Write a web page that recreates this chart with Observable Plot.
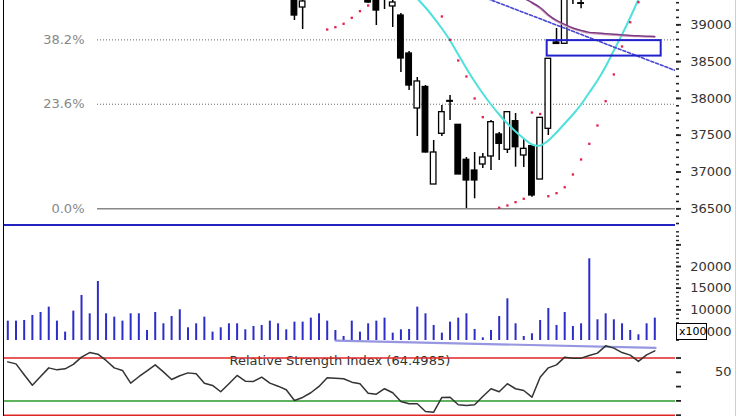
<!DOCTYPE html>
<html><head><meta charset="utf-8">
<script src="https://cdn.jsdelivr.net/npm/d3@7"></script>
<script src="https://cdn.jsdelivr.net/npm/@observablehq/plot@0.6"></script>
<style>
html,body{margin:0;padding:0;background:#fff;}
#chart{position:relative;width:740px;height:416px;overflow:hidden;background:#fff;font-family:"DejaVu Sans",Verdana,sans-serif;}
#chart svg{position:absolute;left:0;overflow:visible;}
.deco{position:absolute;}
#x100{position:absolute;left:676px;top:323px;width:27px;height:15px;border:1px solid #000;background:#fff;font:11px "DejaVu Sans",Verdana,sans-serif;line-height:15px;padding-left:2px;color:#000;}
</style></head><body><div id="chart"></div>
<script>
// ---- Price candles (visible part) ----
const candleIndex = [35,36,44,45,46,47,48,49,50,51,52,53,54,55,56,57,58,59,60,61,62,63,64,65,66,67,68,69,70];
const candleOpen  = [39450,39235,39371,39357,39480,39249,39126,38610,37863,38155,36830,37519,37965,37641,37166,37020,37102,37211,37510,37302,37690,37224,37351,36898,37587,38760,38742,39450,39293];
const candleHigh  = [39520,39371,39400,39420,39520,39398,39154,38637,38284,38175,37428,37904,38039,37641,37197,37265,37251,37700,37537,37822,37795,37442,37360,37740,38542,38950,39500,39500,39360];
const candleLow   = [39058,38936,39289,38990,39208,38963,38352,38107,37482,37258,36830,37482,37700,36966,36504,36636,37048,37020,37157,37251,37065,37061,36658,36898,37496,38732,38732,39276,39217];
const candleClose = [39126,39317,39303,39194,39400,39303,38542,38175,38230,37265,37265,37813,37955,36966,36885,36885,37197,37677,37383,37813,37337,37315,36681,37736,38538,38740,39466,39400,39285];

// ---- Moving averages ----
const cyanIndex = [49,50,51,52,53,54,55,56,57,58,59,60,61,62,63,64,65,66,67,68,69,70,71,72,73,74,75,76,77,78];
const cyanValue = [39493,39357,39235,39099,38950,38787,38596,38406,38230,38067,37917,37781,37659,37550,37455,37374,37360,37428,37537,37659,37781,37917,38080,38243,38433,38651,38868,39099,39344,39575];
const purpleIndex = [63,64,65,66,67,68,69,70,71,72,73,74,75,76,77,78,79];
const purpleValue = [39360,39303,39235,39136,39060,39005,38957,38924,38897,38889,38879,38871,38863,38855,38851,38845,38841];
const pinkIndex = [64,65,66,67,68,69,70,71,72,73,74,75,76,77,78,79];
const pinkValue = [39290,39218,39120,39045,38990,38944,38910,38884,38874,38866,38858,38850,38843,38839,38834,38830];

// ---- Parabolic SAR dots ----
const sarIndex = [39,40,41,42,43,44,53,54,55,56,57,58,60,61,62,63,64,65,66,67,68,69,70,71,72,73,74,75,76,77];
const sarValue = [38936,38967,39014,39095,39185,39262,39113,38796,38515,38298,37999,37745,36514,36545,36590,36636,37808,37788,36671,36712,36793,36966,37170,37383,37632,37962,38325,38705,39035,39307];

// ---- Fibonacci levels ----
const fibLabels = ["38.2%","23.6%","0.0%"];
const fibValues = [38795,37921,36500];

// ---- Annotations ----
const trendIndex = [58,81.5];
const trendValue = [39380,38379];
const boxIndex = [65.86,79.78];
const boxValue = [38575,38785];

// ---- Volume ----
const volume = [7392,7392,7547,8700,9393,10623,7392,4854,9700,13316,9086,16547,9086,8316,7392,9086,9086,5239,9393,6778,
                8470,10009,5855,6778,8316,4854,5855,6778,6778,5393,6162,6393,7392,6778,5393,7162,7162,8085,9086,7392,
                5239,3854,7392,4854,6778,7392,8085,4623,5393,5470,10623,9086,6393,4623,7162,8085,9086,5470,3547,5239,
                8470,12548,6778,3854,4470,7547,10316,6393,9393,6162,6778,21779,7701,9086,7701,6778,5239,4239,6778,8085];

// ---- RSI ----
const rsi = [57.3,55.9,48.3,41.0,47.1,53.1,51.7,52.4,55.5,60.6,63.8,62.7,58.3,53.1,51.3,42.4,46.9,51.0,55.2,50.3,
             45.0,47.6,49.6,49.0,42.4,40.8,36.4,42.0,47.8,43.8,43.6,46.6,42.4,40.3,37.8,30.3,32.4,35.7,40.1,46.2,
             45.9,45.5,43.1,42.0,35.4,34.7,38.5,35.7,29.6,28.0,28.0,22.6,22.1,32.4,32.6,27.3,26.8,27.3,33.1,38.5,
             36.4,42.0,38.5,37.3,32.6,46.6,53.1,55.2,60.6,59.9,59.9,61.7,63.4,68.5,66.9,63.8,62.0,57.6,62.2,65.0];
const rsiTrendIndex = [40,79.1];
const rsiTrendValue = [72.2,67.1];
const rsiRedLevels = [60,20];
const rsiGreenLevels = [30];
const rsiTitle = "Relative Strength Index (64.4985)";

// ---- Axis ticks ----
const priceTickLabels = [36500,37000,37500,38000,38500,39000];
const volumeTickLabels = [5000,10000,15000,20000];
const rsiTickLabels = [50];

// ---- build tables ----
const candles = candleIndex.map((i,k)=>({i,open:candleOpen[k],high:candleHigh[k],low:candleLow[k],close:candleClose[k]}));
const cyan = cyanIndex.map((i,k)=>({i,v:cyanValue[k]}));
const purple = purpleIndex.map((i,k)=>({i,v:purpleValue[k]}));
const pink = pinkIndex.map((i,k)=>({i,v:pinkValue[k]}));
const sar = sarIndex.map((i,k)=>({i,v:sarValue[k]}));
const fibs = fibLabels.map((label,k)=>({label,v:fibValues[k]}));
const trend = trendIndex.map((i,k)=>({i,v:trendValue[k]}));
const box = [{i1:boxIndex[0],i2:boxIndex[1],v1:boxValue[0],v2:boxValue[1]}];
const vol = volume.map((v,i)=>({i,v}));
const rsiData = rsi.map((v,i)=>({i,v}));
const rsiTrend = rsiTrendIndex.map((i,k)=>({i,v:rsiTrendValue[k]}));

const W = 740, ML = 3, MR = 65;
const X = {domain:[0,79], range:[7.3,654.3], axis:null};
const baseStyle = {background:"transparent", overflow:"visible", fontFamily:"'DejaVu Sans', Verdana, sans-serif", fontSize:"13px", color:"#333"};
const AXC = "#222";

const chart = document.getElementById("chart");
function place(svg, top){ svg.style.top = top + "px"; chart.appendChild(svg); }

// Price pane
const price = Plot.plot({
  width:W, height:225, marginLeft:ML, marginRight:MR, marginTop:0, marginBottom:0,
  x:X,
  y:{domain:[36500,39000], range:[208.3,24.3], label:null},
  style:baseStyle,
  marks:[
    Plot.ruleY(fibs.filter(d=>d.v!==36500), {y:"v", insetLeft:94, stroke:"#666", strokeWidth:1, strokeDasharray:"1,2"}),
    Plot.ruleY(fibs.filter(d=>d.v===36500), {y:"v", insetLeft:94, stroke:"#888", strokeWidth:1.5}),
    Plot.text(fibs, {y:"v", text:"label", frameAnchor:"left", dx:81, textAnchor:"end", fill:"#888", fontSize:13}),
    Plot.ruleX(candles, {x:"i", y1:"low", y2:"high", stroke:"#000", strokeWidth:1.5, clip:true}),
    Plot.rect(candles, {x1:d=>d.i-0.34, x2:d=>d.i+0.34, y1:"open", y2:"close", fill:d=>d.close>d.open?"#fff":"#000", stroke:"#000", strokeWidth:1.3, clip:true}),
    Plot.line(cyan, {x:"i", y:"v", stroke:"#4ee0dc", strokeWidth:2, curve:"catmull-rom", clip:true}),
    Plot.line(pink, {x:"i", y:"v", stroke:"#d0a4c4", strokeWidth:1.4, curve:"catmull-rom", clip:true}),
    Plot.line(purple, {x:"i", y:"v", stroke:"#7e3a80", strokeWidth:1.5, curve:"catmull-rom", clip:true}),
    Plot.line(trend, {x:"i", y:"v", stroke:"#4646d2", strokeWidth:1.6, strokeDasharray:"3,2", clip:true}),
    Plot.rect(box, {x1:"i1", x2:"i2", y1:"v1", y2:"v2", fill:"none", stroke:"#2222cc", strokeWidth:2, clip:true}),
    Plot.dot(sar, {x:"i", y:"v", r:1.3, symbol:"square", fill:"#e3204c", clip:true}),
    Plot.axisY(d3.range(36300,39301,100), {anchor:"right", label:null, tickSize:3, strokeWidth:1.6, stroke:AXC, tickFormat:()=>""}),
    Plot.axisY(priceTickLabels, {anchor:"right", label:null, tickSize:5, strokeWidth:1.8, stroke:AXC, tickPadding:51, textAnchor:"end", tickFormat:d=>String(d), fill:"#333"})
  ]
});
place(price, 0);

// Volume pane
const volPlot = Plot.plot({
  width:W, height:115, marginLeft:ML, marginRight:MR, marginTop:0, marginBottom:0,
  x:X,
  y:{domain:[5000,20000], range:[106,41], label:null},
  style:baseStyle,
  marks:[
    Plot.ruleX(vol, {x:"i", y1:0, y2:"v", stroke:"#2d2dc8", strokeWidth:2, clip:true}),
    Plot.axisY(d3.range(3000,28001,1000), {anchor:"right", label:null, tickSize:3, strokeWidth:1.4, stroke:AXC, tickFormat:()=>""}),
    Plot.axisY([5000,10000,15000,20000,25000], {anchor:"right", label:null, tickSize:5, strokeWidth:1.8, stroke:AXC, tickFormat:()=>""}),
    Plot.axisY(volumeTickLabels, {anchor:"right", label:null, tickSize:0, tickPadding:56, textAnchor:"end", tickFormat:d=>String(d), fill:"#333"})
  ]
});
place(volPlot, 225);

// RSI pane
const rsiPlot = Plot.plot({
  width:W, height:86, marginLeft:ML, marginRight:MR, marginTop:0, marginBottom:0,
  x:X,
  y:{domain:[20,60], range:[84.7,27.5], label:null},
  style:baseStyle,
  marks:[
    Plot.text([rsiTitle], {text:d=>d, frameAnchor:"top-left", dx:226, dy:25, textAnchor:"start", fill:"#333", fontSize:13}),
    Plot.ruleY(rsiRedLevels, {y:d=>d, stroke:"#e02424", strokeWidth:1.5}),
    Plot.ruleY(rsiGreenLevels, {y:d=>d, stroke:"#2a9a2a", strokeWidth:1.5}),
    Plot.line(rsiTrend, {x:"i", y:"v", stroke:"#8484dc", strokeWidth:2.2, strokeOpacity:0.85}),
    Plot.line(rsiData, {x:"i", y:"v", stroke:"#333", strokeWidth:1.5}),
    Plot.axisY([20,30,40,50,60], {anchor:"right", label:null, tickSize:5, strokeWidth:1.8, stroke:AXC, tickFormat:()=>""}),
    Plot.axisY(rsiTickLabels, {anchor:"right", label:null, tickSize:0, tickPadding:56, textAnchor:"end", tickFormat:d=>String(d), fill:"#333"})
  ]
});
place(rsiPlot, 330);

// pane borders and volume multiplier box
function deco(css){ const d=document.createElement("div"); d.className="deco"; Object.assign(d.style, css); chart.appendChild(d); }
deco({left:"3px", top:"224px", width:"672px", height:"2px", background:"#2323c0"});
deco({left:"2.5px", top:"0px", width:"1.5px", height:"416px", background:"#000"});
deco({left:"735px", top:"0px", width:"1px", height:"416px", background:"#cfcfcf"});
const xb = document.createElement("div"); xb.id="x100"; xb.textContent="x100"; chart.appendChild(xb);
</script>
</body></html>
